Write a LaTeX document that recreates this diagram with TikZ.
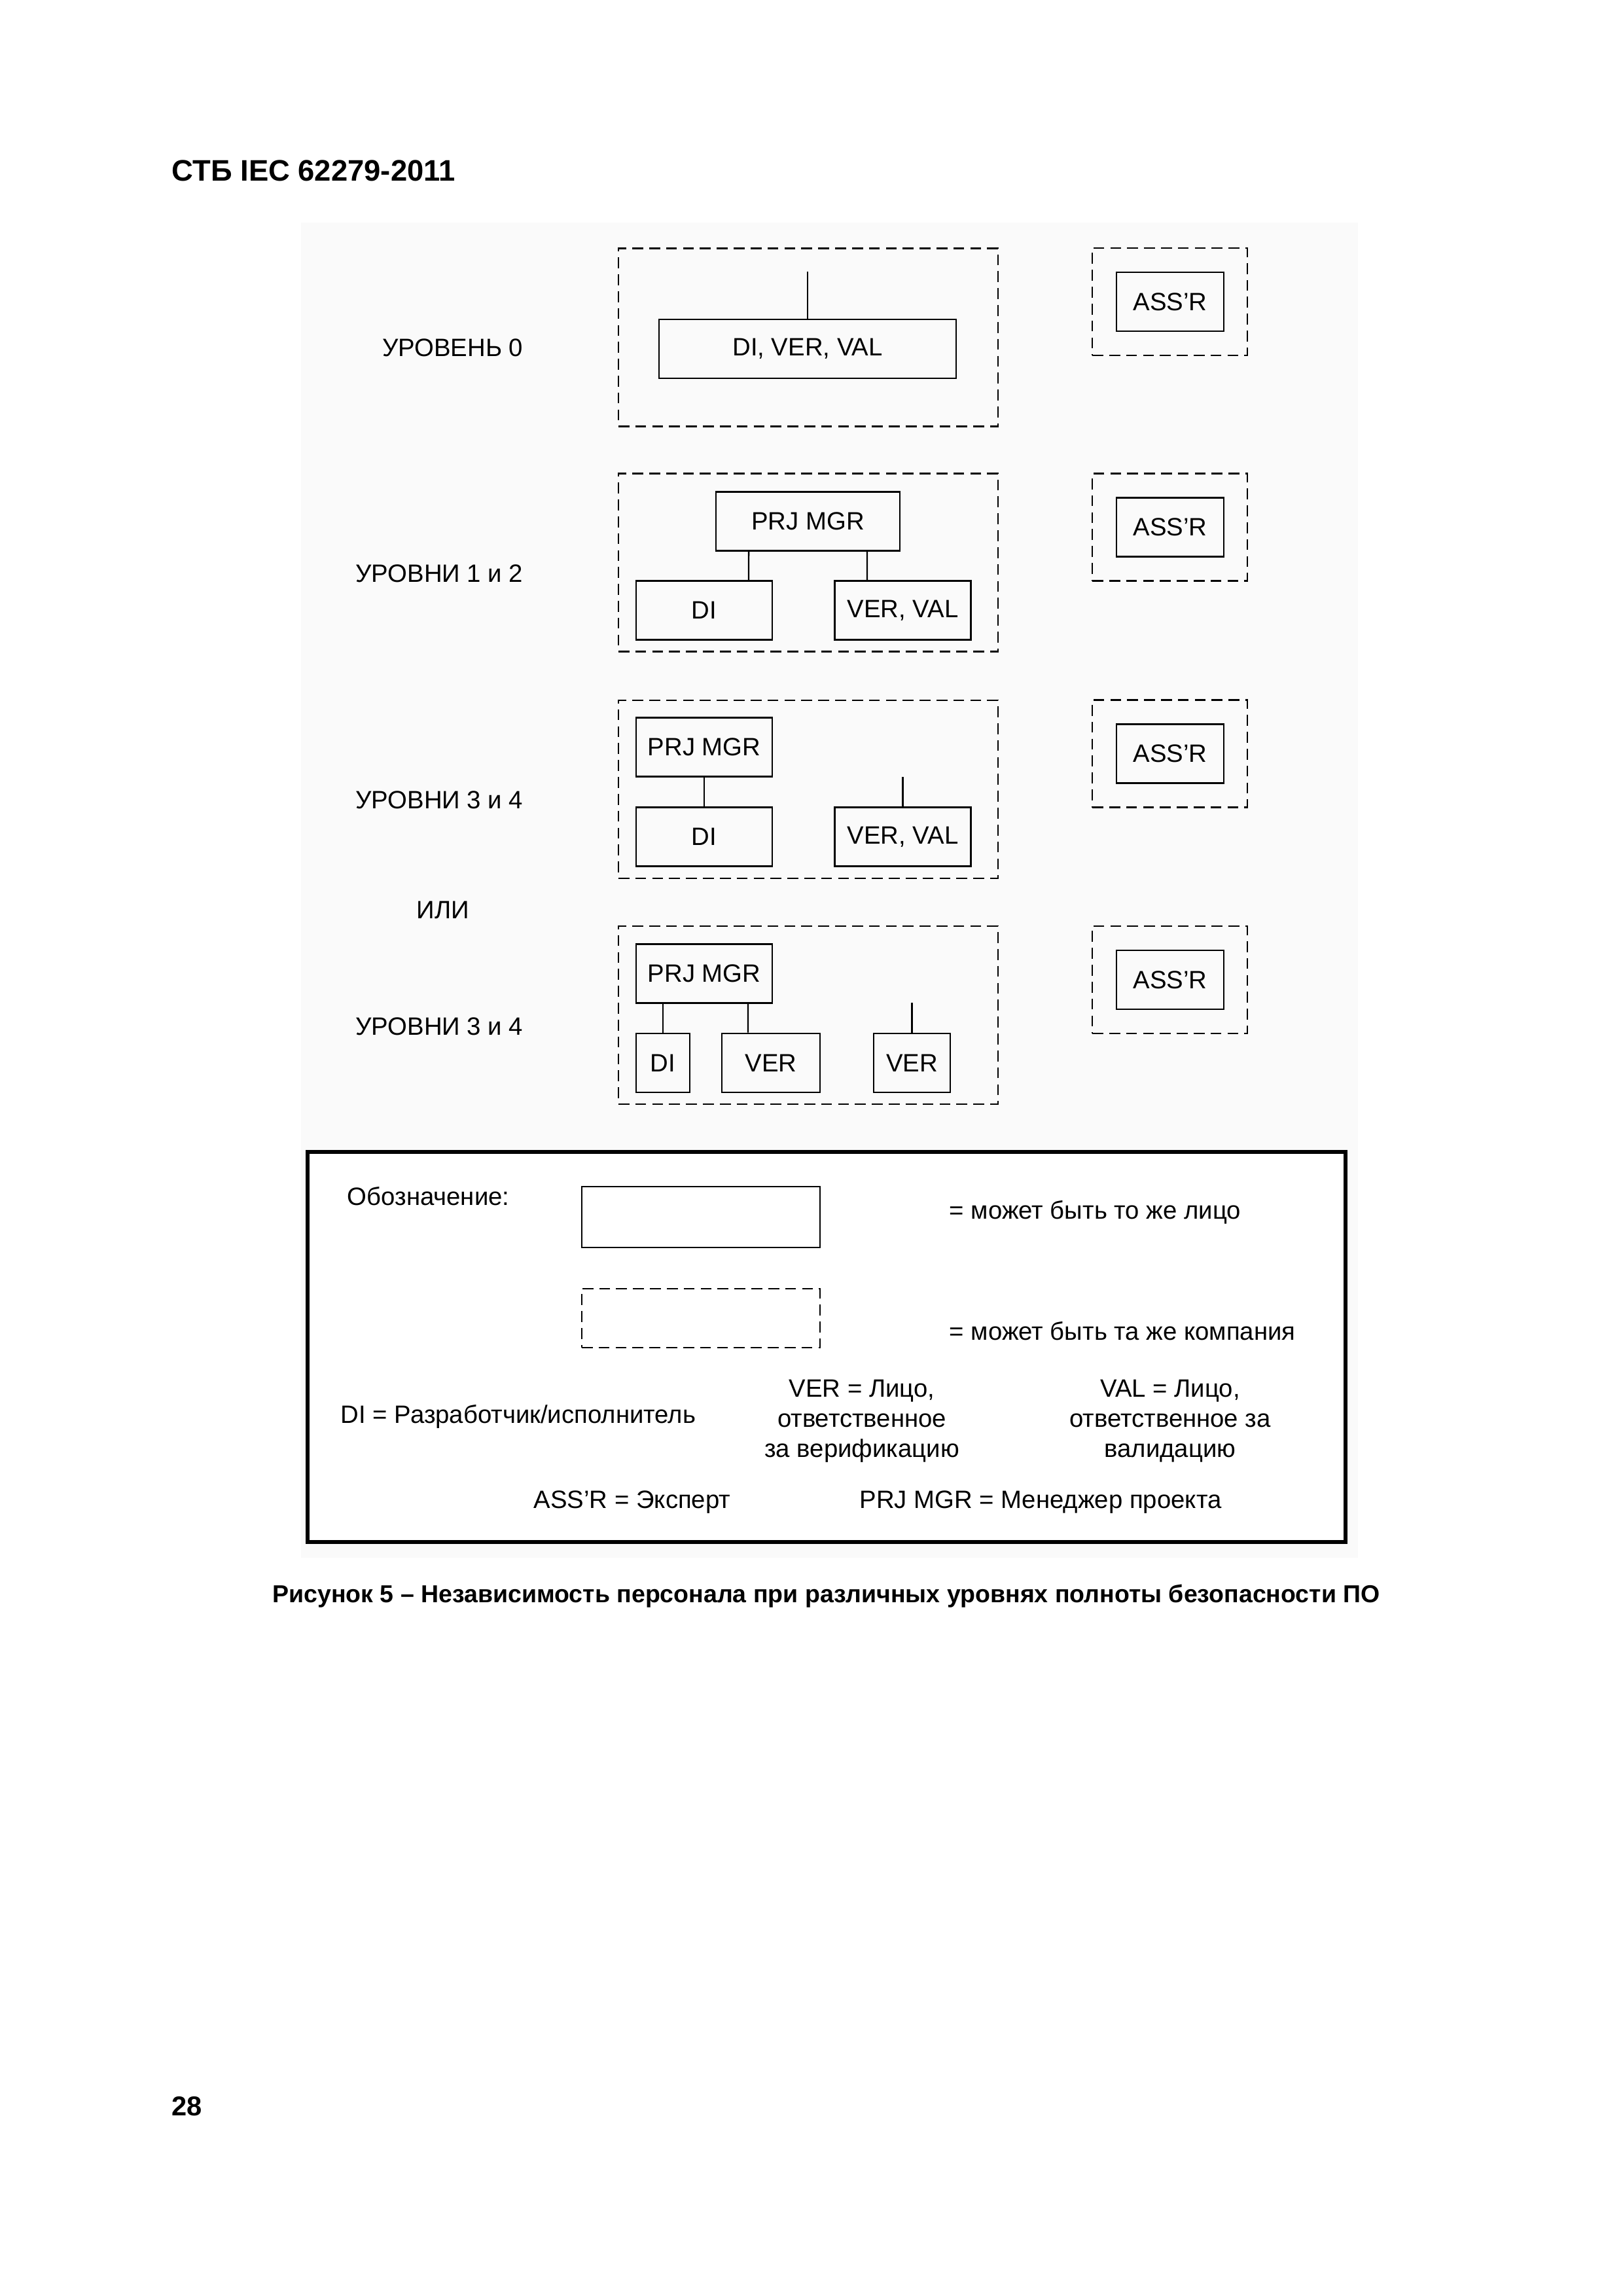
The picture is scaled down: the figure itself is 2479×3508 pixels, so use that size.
\documentclass[tikz,border=0pt]{standalone}
\usepackage{fontspec}
\setmainfont{Liberation Sans}
\begin{document}
\begin{tikzpicture}[x=0.2401pt,y=-0.2401pt,
  box/.style={draw,line width=0.65pt,inner sep=0pt,minimum height=21.6pt,font=\fontsize{9.2}{11}\selectfont},
  company/.style={draw,line width=0.6pt,dash pattern=on 4pt off 2.2pt,inner sep=0pt},
  lvl/.style={inner sep=0pt,font=\fontsize{9.2}{11}\selectfont},
  link/.style={line width=0.55pt}]
\useasboundingbox (0,0) rectangle (2479,3508);
\fill[black!2] (460,340) rectangle (2075,2380);
\node[font=\bfseries\fontsize{10.9}{13}\selectfont,anchor=base west,inner sep=0pt] (title) at (262,277) {СТБ IEC 62279-2011};
% dashed company frames
\foreach \y/\n in {515.5/0,859.5/1,1206/2,1551/3}
	\node[company,minimum width=139.3pt,minimum height=65.3pt] (grp\n) at (1235,\y) {};
\foreach \y/\n in {461/0,805.5/1,1151.5/2,1497/3} {
	\node[company,minimum width=56.9pt,minimum height=39.4pt] (assd\n) at (1787.5,\y) {};
	\node[box,minimum width=39.4pt] (ass\n) at (1788,\y) {ASS'R};
}
% level 0
\node[box,minimum width=109pt] (dvv0) at (1234,533) {DI, VER, VAL};
\coordinate (top0) at (1234,415);
\draw[link] (top0) -- (dvv0.north);
% levels 1 and 2
\node[box,minimum width=67.5pt] (prj1) at (1234.5,796.5) {PRJ MGR};
\node[box,minimum width=50pt] (di1) at (1076,932.5) {DI};
\node[box,minimum width=50pt] (vv1) at (1379.5,932.5) {VER, VAL};
\draw[link] ([xshift=-21.7pt]prj1.south) -- ([xshift=16.3pt]di1.north);
\draw[link] ([xshift=21.7pt]prj1.south) -- ([xshift=-13.1pt]vv1.north);
% levels 3 and 4
\node[box,minimum width=50pt] (prj2) at (1076,1141.5) {PRJ MGR};
\node[box,minimum width=50pt] (di2) at (1076,1278.5) {DI};
\node[box,minimum width=50pt] (vv2) at (1379.5,1278.5) {VER, VAL};
\coordinate (top2) at (1379.5,1187);
\draw[link] (prj2) -- (di2);
\draw[link] (top2) -- (vv2.north);
% levels 3 and 4, second way
\node[box,minimum width=50pt] (prj3) at (1076,1487.5) {PRJ MGR};
\node[box,minimum width=19.7pt] (di3) at (1013,1624) {DI};
\node[box,minimum width=36pt] (ver3) at (1178,1624) {VER};
\node[box,minimum width=28.1pt] (ver3b) at (1393.5,1624) {VER};
\coordinate (top3) at (1393.5,1532);
\draw[link] (prj3.south -| di3.north) -- (di3.north);
\draw[link] ([xshift=16.1pt]prj3.south) -- ([xshift=-8.4pt]ver3.north);
\draw[link] (top3) -- (ver3b.north);
% level names
\node[lvl,anchor=base east] (l0) at (800,545) {УРОВЕНЬ 0};
\node[lvl,anchor=base east] (l1) at (800,889) {УРОВНИ 1 и 2};
\node[lvl,anchor=base east] (l2) at (800,1235) {УРОВНИ 3 и 4};
\node[lvl,anchor=base] (ili) at (677,1403) {ИЛИ};
\node[lvl,anchor=base east] (l3) at (800,1581) {УРОВНИ 3 и 4};
% legend
\node[draw,line width=1.5pt,fill=white,minimum width=380.8pt,minimum height=143.1pt] (legend) at (1263,2058) {};
\node[box,minimum width=87.4pt,minimum height=22.3pt] (same) at (1071,1859.5) {};
\node[company,minimum width=87.4pt,minimum height=21.6pt] (samec) at (1071,2014) {};
\node[lvl,anchor=west] (key) at (530,1828) {Обозначение:};
\node[lvl,anchor=west] (samet) at (1450,1852) {= может быть то же лицо};
\node[lvl,anchor=west] (samect) at (1450,2034) {= может быть та же компания};
\node[lvl,anchor=west] (dit) at (520,2164) {DI = Разработчик/исполнитель};
\node[lvl,align=center] (vert) at (1317,2171) {VER = Лицо,\\ответственное\\за верификацию};
\node[lvl,align=center] (valt) at (1788,2171) {VAL = Лицо,\\ответственное за\\валидацию};
\node[lvl] (asst) at (966,2295) {ASS'R = Эксперт};
\node[lvl] (prjt) at (1590,2295) {PRJ MGR = Менеджер проекта};
\node[font=\bfseries\fontsize{9}{11}\selectfont,anchor=base,inner sep=0pt] (caption) at (1262.5,2448) {Рисунок 5 – Независимость персонала при различных уровнях полноты безопасности ПО};
\node[font=\bfseries\fontsize{10}{12}\selectfont,anchor=base west,inner sep=0pt] (page) at (262,3232) {28};
\end{tikzpicture}
\end{document}
